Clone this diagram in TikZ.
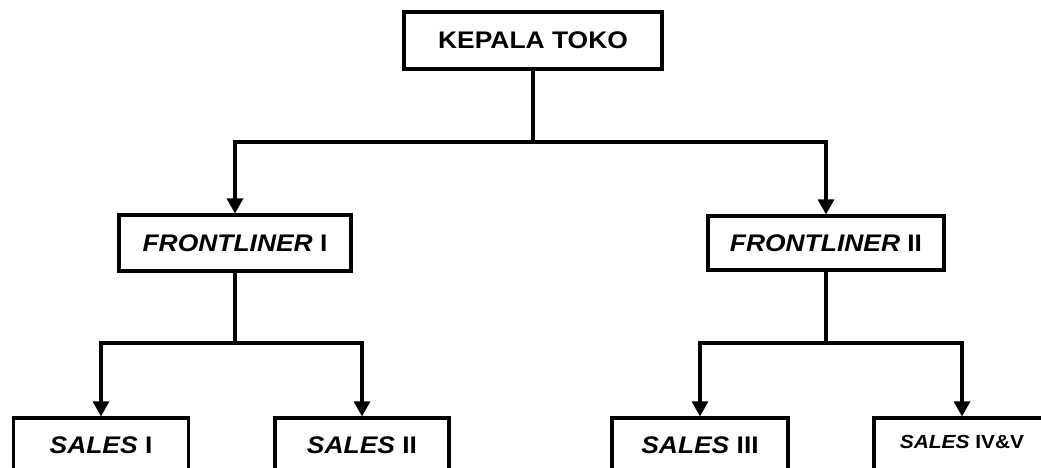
\documentclass[tikz,border=0pt]{standalone}
\usepackage{fontspec}
\setmainfont[FakeStretch=1.1]{Liberation Sans}
\usetikzlibrary{arrows.meta}
\begin{document}
\begin{tikzpicture}[x=1pt,y=-1pt,
  box/.style={draw,line width=3.2pt,inner sep=0pt,font=\bfseries\fontsize{24}{28}\selectfont},
  conn/.style={line width=3.2pt},
  arr/.style={line width=3.2pt,-{Triangle[width=16pt,length=15pt]}}]
\useasboundingbox (0,0) rectangle (1041,468);
\clip (0,0) rectangle (1041,468);
\node[box,minimum width=258pt,minimum height=57pt] (kt) at (533,40.5) {KEPALA TOKO};
\node[box,minimum width=232pt,minimum height=56pt] (f1) at (235,243) {\textit{FRONTLINER} I};
\node[box,minimum width=236pt,minimum height=54pt] (f2) at (826,243) {\textit{FRONTLINER} II};
\node[box,minimum width=175pt,minimum height=54pt] (s1) at (101,445) {\textit{SALES} I};
\node[box,minimum width=174pt,minimum height=54pt] (s2) at (362,445) {\textit{SALES} II};
\node[box,minimum width=176pt,minimum height=54pt] (s3) at (700,445) {\textit{SALES} III};
\node[box,minimum width=176pt,minimum height=54pt,font=\bfseries\fontsize{19}{22}\selectfont,text depth=6pt] (s4) at (962,445) {\textit{SALES} IV\&V};
\coordinate (j1) at (533,142);
\coordinate (j2) at (235,343);
\coordinate (j3) at (826,343);
\draw[conn] (kt.south) -- (j1);
\draw[arr] (j1) -| (f1.north);
\draw[arr] (j1) -| (f2.north);
\draw[conn] (f1.south) -- (j2);
\draw[arr] (j2) -| (s1.north);
\draw[arr] (j2) -| (s2.north);
\draw[conn] (f2.south) -- (j3);
\draw[arr] (j3) -| (s3.north);
\draw[arr] (j3) -| (s4.north);
\end{tikzpicture}
\end{document}
